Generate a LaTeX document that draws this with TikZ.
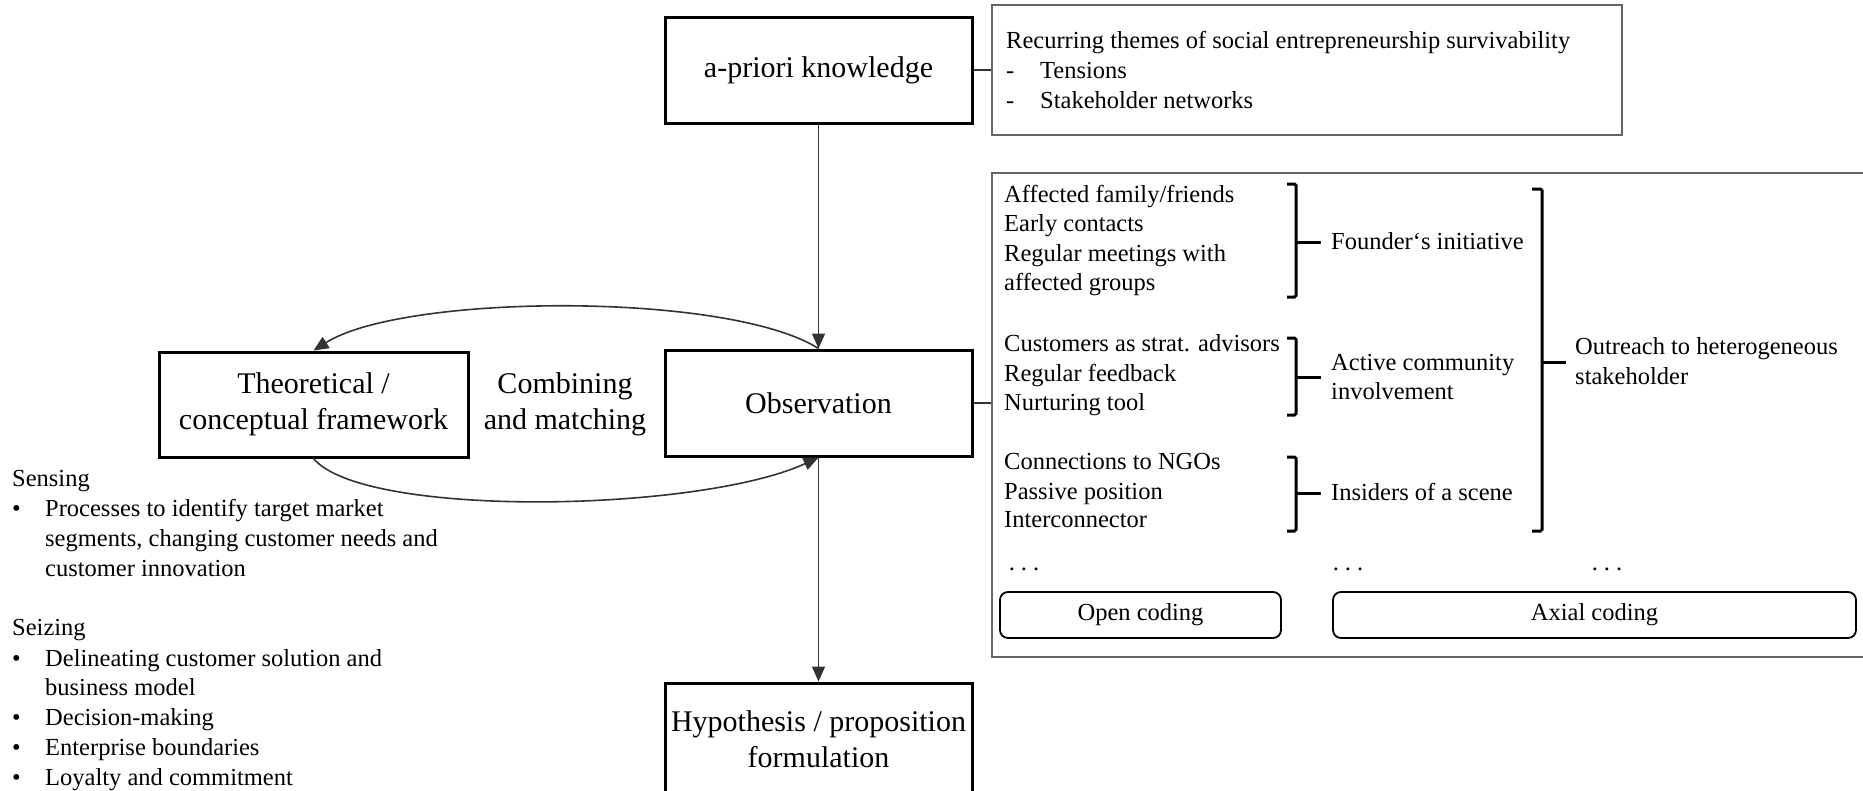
\documentclass[tikz,border=0pt]{standalone}
\usepackage{fontspec}
\setmainfont{Liberation Serif}
\usetikzlibrary{arrows.meta}
\begin{document}
\begin{tikzpicture}[x=1pt,y=-1pt,
  big/.style={font=\fontsize{30}{36}\selectfont},
  small/.style={font=\fontsize{24.5}{29.5}\selectfont},
  stage/.style={draw=black, line width=3pt, minimum width=307pt, minimum height=106pt,
                inner sep=0pt, align=center, big},
  panel/.style={draw=black!60, line width=1.6pt, inner sep=0pt},
  codebox/.style={draw=black, line width=1.8pt, rounded corners=8pt, inner sep=0pt, small},
  txt/.style={anchor=base west, inner sep=0pt, small},
  link/.style={draw=black!80, line width=1.6pt},
  flow/.style={link, -{Triangle[length=15pt,width=13pt]}},
  brace/.style={draw=black, line width=3pt, rounded corners=1.5pt},
]
\useasboundingbox (0,0) rectangle (1863,790);
\clip (0,0) rectangle (1863,790);

% research stages
\node[stage] (apriori) at (818.5,70) {a-priori knowledge};
\node[stage] (obs) at (818.5,403) {Observation};
\node[stage, minimum width=309pt, minimum height=105pt] (theo) at (313.5,404.5)
  {Theoretical /\\conceptual framework};
\node[stage, minimum height=112pt] (hyp) at (818.5,739)
  {Hypothesis / proposition\\formulation};
\node[big, align=center, inner sep=0pt] (comb) at (565,404) {Combining\\and matching};

% side panels
\node[panel, minimum width=630pt, minimum height=130pt] (info) at (1307,70) {};
\node[panel, minimum width=888pt, minimum height=484pt] (coding) at (1436,415) {};

% connectors
\draw[link] (apriori.east) -- (info.west);
\draw[link] (obs.east) -- (obs.east -| coding.west);
\draw[flow] (apriori) -- (obs);
\draw[flow] (obs) -- (hyp);
\draw[flow] (obs.north) .. controls +(-90,-57) and +(90,-57) .. (theo.north);
\draw[flow] (theo.south) .. controls +(50,60) and +(-120,55) .. (obs.south);

% themes
\node[txt] (rec) at (1006,48) {Recurring themes of social entrepreneurship survivability};
\node[txt] (dasha) at (1006,78) {-};
\node[txt] (tens) at (1040,78) {Tensions};
\node[txt] (dashb) at (1006,108) {-};
\node[txt] (stak) at (1040,108) {Stakeholder networks};

% open codes
\node[txt] (oc1) at (1004,202) {Affected family/friends};
\node[txt] (oc2) at (1004,231) {Early contacts};
\node[txt] (oc3) at (1004,261) {Regular meetings with};
\node[txt] (oc4) at (1004,290) {affected groups};
\node[txt] (oc5) at (1004,351) {Customers as strat. advisors};
\node[txt] (oc6) at (1004,381) {Regular feedback};
\node[txt] (oc7) at (1004,410) {Nurturing tool};
\node[txt] (oc8) at (1004,469) {Connections to NGOs};
\node[txt] (oc9) at (1004,499) {Passive position};
\node[txt] (oc10) at (1004,527) {Interconnector};

% axial codes
\node[txt] (ax1) at (1331,249) {Founder‘s initiative};
\node[txt] (ax2a) at (1331,370) {Active community};
\node[txt] (ax2b) at (1331,399) {involvement};
\node[txt] (ax3) at (1331,500) {Insiders of a scene};
\node[txt] (ax4a) at (1575,354) {Outreach to heterogeneous};
\node[txt] (ax4b) at (1575,384) {stakeholder};

% brackets
\draw[brace] (1287,184) -- (1296,184) -- (1296,297) -- (1287,297);
\draw[brace] (1296,242) -- (1321,242);
\draw[brace] (1287,338) -- (1296,338) -- (1296,415) -- (1287,415);
\draw[brace] (1296,377) -- (1321,377);
\draw[brace] (1287,457) -- (1296,457) -- (1296,531) -- (1287,531);
\draw[brace] (1296,493) -- (1321,493);
\draw[brace] (1532,189) -- (1542,189) -- (1542,531) -- (1532,531);
\draw[brace] (1542,362) -- (1566,362);

% continuation marks
\node[small, anchor=base, inner sep=0pt] (more1) at (1024,570) {.\hspace{6pt}.\hspace{6pt}.};
\node[small, anchor=base, inner sep=0pt] (more2) at (1348,570) {.\hspace{6pt}.\hspace{6pt}.};
\node[small, anchor=base, inner sep=0pt] (more3) at (1607,570) {.\hspace{6pt}.\hspace{6pt}.};

% coding stages
\node[codebox, minimum width=281pt, minimum height=46pt] (open) at (1140.5,615) {Open coding};
\node[codebox, minimum width=523pt, minimum height=46pt] (axial) at (1594.5,615) {Axial coding};

% dynamic capabilities
\node[txt] (sens) at (12,486) {Sensing};
\node[txt] (bs1) at (12,516) {•};
\node[txt] (s1a) at (45,516) {Processes to identify target market};
\node[txt] (s1b) at (45,546) {segments, changing customer needs and};
\node[txt] (s1c) at (45,576) {customer innovation};
\node[txt] (seiz) at (12,635) {Seizing};
\node[txt] (bz1) at (12,666) {•};
\node[txt] (z1a) at (45,666) {Delineating customer solution and};
\node[txt] (z1b) at (45,695) {business model};
\node[txt] (bz2) at (12,725) {•};
\node[txt] (z2) at (45,725) {Decision-making};
\node[txt] (bz3) at (12,755) {•};
\node[txt] (z3) at (45,755) {Enterprise boundaries};
\node[txt] (bz4) at (12,785) {•};
\node[txt] (z4) at (45,785) {Loyalty and commitment};
\end{tikzpicture}
\end{document}
